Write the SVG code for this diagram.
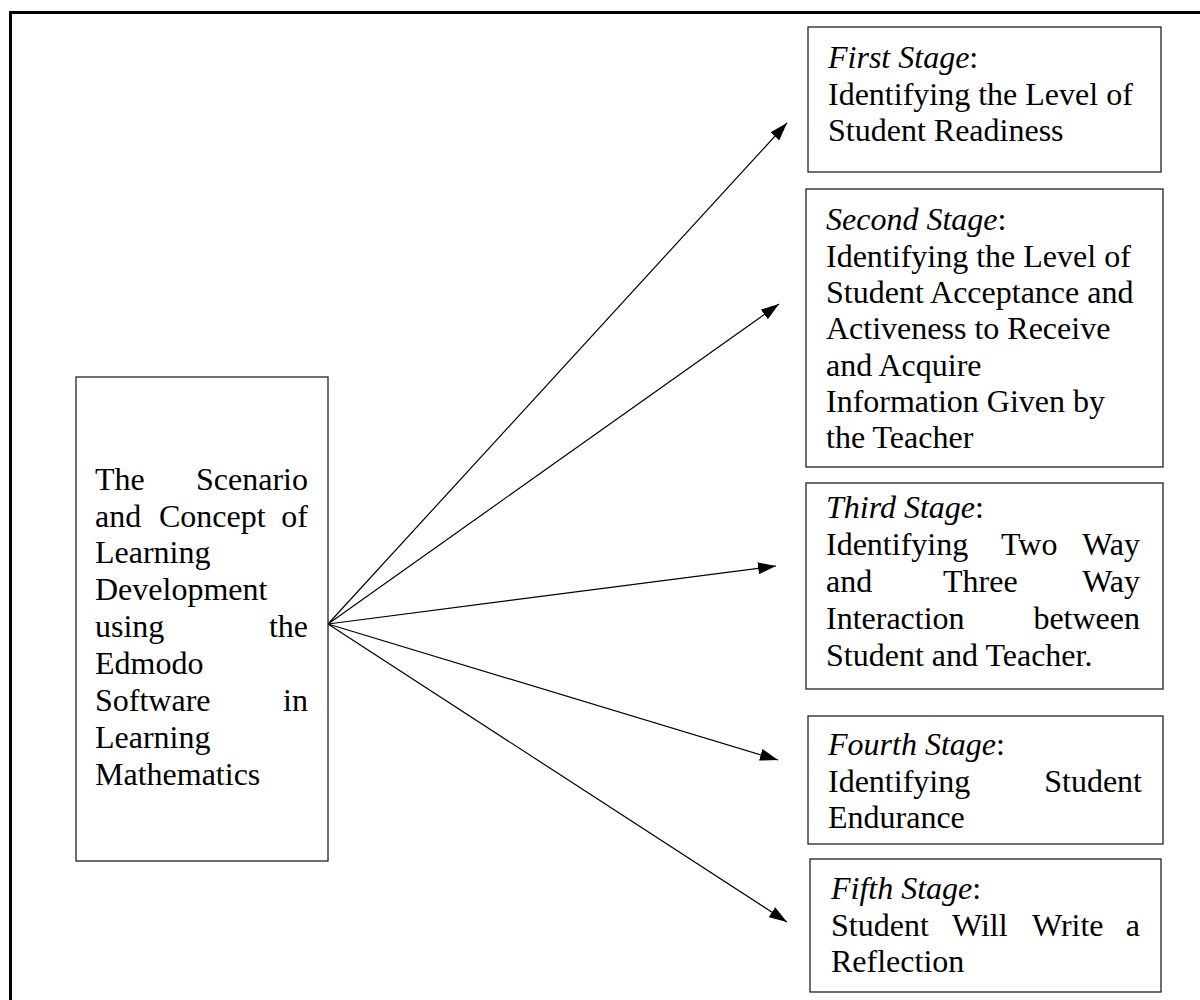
<svg xmlns="http://www.w3.org/2000/svg" width="1200" height="1000" viewBox="0 0 1200 1000">
<style>
  .box { fill: #fff; stroke: #222; stroke-width: 1.3; }
  .t { font-family: "Liberation Serif", "Times New Roman", serif; font-size: 32px; fill: #000; }
  .i { font-style: italic; }
  .e { text-anchor: end; }
  .conn { stroke: #000; stroke-width: 1.2; fill: none; marker-end: url(#arrow); }
</style>
<defs>
  <marker id="arrow" viewBox="0 0 18 12" markerUnits="userSpaceOnUse" markerWidth="18" markerHeight="12" refX="18" refY="6" orient="auto">
    <path d="M0,0 L18,6 L0,12 z" fill="#000"/>
  </marker>
</defs>
<rect width="1200" height="1000" fill="#fff"/>
<g id="frame">
  <path d="M10.5,1000 L10.5,12.5 L1200,12.5" fill="none" stroke="#000" stroke-width="3"/>
</g>
<g id="connectors">
  <line class="conn" x1="328" y1="624" x2="787" y2="123"/>
  <line class="conn" x1="328" y1="624" x2="779" y2="304"/>
  <line class="conn" x1="328" y1="624" x2="776" y2="566"/>
  <line class="conn" x1="328" y1="624" x2="778" y2="760"/>
  <line class="conn" x1="328" y1="624" x2="787" y2="922"/>
</g>
<g id="main">
  <rect class="box" x="76" y="377" width="252" height="484"/>
  <text class="t" x="95" y="490">The</text>
  <text class="t e" x="308" y="490">Scenario</text>
  <text class="t" x="95" y="527">and</text>
  <text class="t" x="159" y="527">Concept</text>
  <text class="t e" x="308" y="527">of</text>
  <text class="t" x="95" y="563">Learning</text>
  <text class="t" x="95" y="600">Development</text>
  <text class="t" x="95" y="637">using</text>
  <text class="t e" x="308" y="637">the</text>
  <text class="t" x="95" y="674">Edmodo</text>
  <text class="t" x="95" y="711">Software</text>
  <text class="t e" x="308" y="711">in</text>
  <text class="t" x="95" y="748">Learning</text>
  <text class="t" x="95" y="785">Mathematics</text>
</g>
<g id="stage1">
  <rect class="box" x="808" y="27" width="353" height="145"/>
  <text class="t" x="828" y="68"><tspan class="i">First Stage</tspan>:</text>
  <text class="t" x="828" y="105">Identifying the Level of</text>
  <text class="t" x="828" y="141">Student Readiness</text>
</g>
<g id="stage2">
  <rect class="box" x="806" y="189" width="357" height="278"/>
  <text class="t" x="826" y="230"><tspan class="i">Second Stage</tspan>:</text>
  <text class="t" x="826" y="267">Identifying the Level of</text>
  <text class="t" x="826" y="303">Student Acceptance and</text>
  <text class="t" x="826" y="339">Activeness to Receive</text>
  <text class="t" x="826" y="376">and Acquire</text>
  <text class="t" x="826" y="412">Information Given by</text>
  <text class="t" x="826" y="448">the Teacher</text>
</g>
<g id="stage3">
  <rect class="box" x="806" y="483" width="357" height="206"/>
  <text class="t" x="826" y="518"><tspan class="i">Third Stage</tspan>:</text>
  <text class="t" x="826" y="555">Identifying</text>
  <text class="t" x="1001" y="555">Two</text>
  <text class="t e" x="1140" y="555">Way</text>
  <text class="t" x="826" y="592">and</text>
  <text class="t" x="943" y="592">Three</text>
  <text class="t e" x="1140" y="592">Way</text>
  <text class="t" x="826" y="629">Interaction</text>
  <text class="t e" x="1140" y="629">between</text>
  <text class="t" x="826" y="666">Student and Teacher.</text>
</g>
<g id="stage4">
  <rect class="box" x="808" y="716" width="355" height="128"/>
  <text class="t" x="828" y="755"><tspan class="i">Fourth Stage</tspan>:</text>
  <text class="t" x="828" y="792">Identifying</text>
  <text class="t e" x="1142" y="792">Student</text>
  <text class="t" x="828" y="828">Endurance</text>
</g>
<g id="stage5">
  <rect class="box" x="810" y="859" width="351" height="133"/>
  <text class="t" x="831" y="899"><tspan class="i">Fifth Stage</tspan>:</text>
  <text class="t" x="831" y="936">Student</text>
  <text class="t" x="952" y="936">Will</text>
  <text class="t" x="1032" y="936">Write</text>
  <text class="t e" x="1140" y="936">a</text>
  <text class="t" x="831" y="972">Reflection</text>
</g>
</svg>
